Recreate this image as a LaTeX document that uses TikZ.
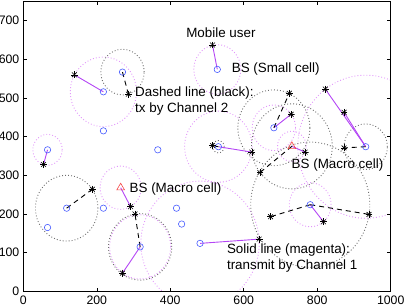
\documentclass[tikz,border=0pt]{standalone}
\usepackage{fontspec}
\setmainfont{Liberation Sans}
\usetikzlibrary{shapes.geometric,backgrounds}
\definecolor{bsblue}{RGB}{70,90,255}
\definecolor{macrored}{RGB}{245,70,70}
\definecolor{chmag}{RGB}{180,70,245}
\definecolor{ringmag}{RGB}{225,150,250}
\definecolor{ringgrey}{RGB}{110,110,110}

\begin{document}
\begin{tikzpicture}[x=0.3674bp,y=0.3866bp,
    font=\fontsize{13.4bp}{16bp}\selectfont,
    bs/.style={circle, draw=bsblue, line width=0.6bp, minimum size=6.4bp, inner sep=0pt},
    macro/.style={regular polygon, regular polygon sides=3, draw=macrored, line width=0.6bp, minimum size=9bp, inner sep=0pt},
    mu/.style={inner sep=0pt, minimum size=7.2bp, path picture={
        \foreach \a in {0,45,90,135}
            \draw[line width=0.6bp] ([shift={(\a:3.4bp)}]path picture bounding box.center) -- ([shift={(\a:-3.4bp)}]path picture bounding box.center);}},
    chone/.style={draw=chmag, line width=0.9bp},
    chtwo/.style={draw=black, line width=0.9bp, dash pattern=on 5bp off 4bp},
    ringone/.style={draw=ringmag, line width=0.9bp, dash pattern=on 0.9bp off 2.1bp},
    ringtwo/.style={draw=ringgrey, line width=0.9bp, dash pattern=on 0.9bp off 2.1bp},
    ticklab/.style={inner sep=0pt, font=\fontsize{12.3bp}{14bp}\selectfont},
    lab/.style={anchor=west, inner sep=0pt, align=left}]
    \useasboundingbox (-63.4,-38) rectangle (1038.9,753.5);

    % small cells
    \foreach \n/\x/\y in {1/270/567,2/218/516,3/218/415,4/66/366,5/366/366,6/528/574,
        7/682/423,8/932/374,9/531/374,10/118/215,11/218/215,12/66/165,13/318/115,
        14/417/215,15/431/174,16/481/124,17/781/224} {
        \node[bs] (s\n) at (\x,\y) {};
    }
    % macro cells
    \node[macro] (m1) at (731,375) {};
    \node[macro] (m2) at (265,268) {};

    % mobile users
    \foreach \n/\x/\y in {1/139/560,2/286/510,3/55/328,4/515/637,5/724/512,6/729/458,
        7/822/523,8/873/463,9/873/371,10/515/377,11/622/360,12/767/360,13/644/307,
        14/188/264,15/292/219,16/304/200,17/270/47,18/817/180,19/673/193,20/941/199,
        21/642/135} {
        \node[mu] (u\n) at (\x,\y) {};
    }

    \begin{scope}[on background layer]
        \clip (0,0) rectangle (1000,750);
        % coverage rings
        \foreach \c/\r in {s2/90,s4/40,s6/64,s7/59,s8/185,s9/92,m1/39,m2/56,s13/83,s17/57,s16/161}
            \draw[ringone] (\c.center) circle[radius=\r];
        \foreach \c/\r in {s1/59,s7/98,s8/59,s9/16,m1/110,s10/85,s13/86,s17/162}
            \draw[ringtwo] (\c.center) circle[radius=\r];
        % channel 1 links
        \foreach \a/\b in {s2/u1,s4/u3,s6/u4,s7/u6,s8/u7,s8/u8,s9/u11,m1/u12,m2/u15,s13/u17,s17/u18,s16/u21}
            \draw[chone] (\a.center) -- (\b.center);
        % channel 2 links
        \foreach \a/\b in {s1/u2,s7/u5,s8/u9,s9/u10,m1/u13,s10/u14,s13/u16,s17/u19,s17/u20}
            \draw[chtwo] (\a.center) -- (\b.center);
    \end{scope}

    % axes box and ticks
    \draw[line width=0.6bp] (0,0) rectangle (1000,750);
    \foreach \x in {0,200,...,1000} {
        \draw[line width=0.5bp] (\x,0) -- ++(0pt,3.7bp) (\x,750) -- ++(0pt,-3.7bp);
        \node[ticklab, anchor=north, yshift=-4.8bp] (xt\x) at (\x,0) {\x};
    }
    \foreach \y in {0,100,...,700} {
        \draw[line width=0.5bp] (0,\y) -- ++(3.7bp,0pt) (1000,\y) -- ++(-3.7bp,0pt);
        \node[ticklab, anchor=east, xshift=-3.8bp] (yt\y) at (0,\y) {\y};
    }

    % labels
    \node[lab] (lmu) at (443,669) {Mobile user};
    \node[lab] (lsmall) at (567,574) {BS (Small cell)};
    \node[lab] (ldash) at (304,491.5) {Dashed line (black):\\tx by Channel 2};
    \node[lab] (lmacroa) at (730,327) {BS (Macro cell)};
    \node[lab] (lmacrob) at (289,265) {BS (Macro cell)};
    \node[lab] (lsolid) at (554,86) {Solid line (magenta):\\transmit by Channel 1};
\end{tikzpicture}
\end{document}
